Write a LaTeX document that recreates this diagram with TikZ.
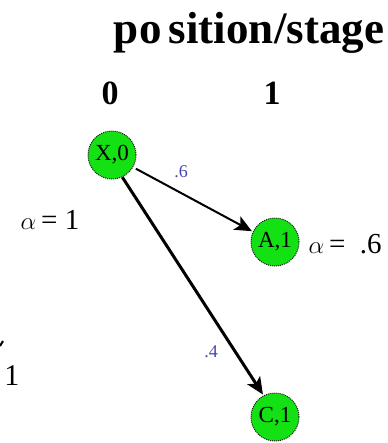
\documentclass[tikz,border=0pt]{standalone}
\usepackage{fontspec}
\setmainfont{Liberation Serif}
\usetikzlibrary{arrows.meta,positioning,calc}
\definecolor{stategreen}{RGB}{20,225,20}
\definecolor{probblue}{RGB}{70,70,180}

\begin{document}
\begin{tikzpicture}[
        x=1pt, y=-1pt,
        >={Stealth[length=17pt,width=15pt,inset=4pt]},
        state/.style={circle, draw=black!90, line width=1pt, densely dotted, fill=stategreen,
            minimum size=48pt, inner sep=0pt, font=\fontsize{23}{24}\selectfont},
        prob/.style={font=\fontsize{18}{19}\selectfont, text=probblue},
        alpha/.style={font=\fontsize{29}{30}\selectfont}
    ]
        \useasboundingbox (0,0) rectangle (387,443);
        \fill[white] (0,0) rectangle (387,443);
        % Titel
        \node[font=\fontsize{45}{48}\selectfont\bfseries] (title) at (249,33) {po\,sition/stage};
        % Stufen
        \foreach \x/\stage in {110/0, 272/1} {
            \node[font=\fontsize{34}{36}\selectfont\bfseries] (stage\stage) at (\x,93) {\stage};
        }
        % Zustaende
        \node[state] (x0) at (112,155) {X,0};
        \node[state] (a1) at (275,242) {A,1};
        \node[state] (c1) at (275,417) {C,1};
        % Uebergaenge
        \draw[->, line width=2pt, shorten <=3pt, shorten >=1pt] (x0.-30) -- (a1.155);
        \draw[->, line width=3pt, shorten >=1pt] (x0.-65) -- (c1.118);
        \node[prob] (p6) at (181,172) {.6};
        \node[prob] (p4) at (211,352) {.4};
        % Gewichte
        \node[alpha] (alphax) at (50,220) {$\alpha$\,= 1};
        \node[alpha, anchor=west] (alphaa) at (305,244) {$\alpha$\,=\ \ .6};
        \node[alpha, font=\fontsize{30}{32}\selectfont] (leftone) at (12,376) {1};
        \draw[line width=2pt] (0,346) -- (3,341);
    \end{tikzpicture}
\end{document}
